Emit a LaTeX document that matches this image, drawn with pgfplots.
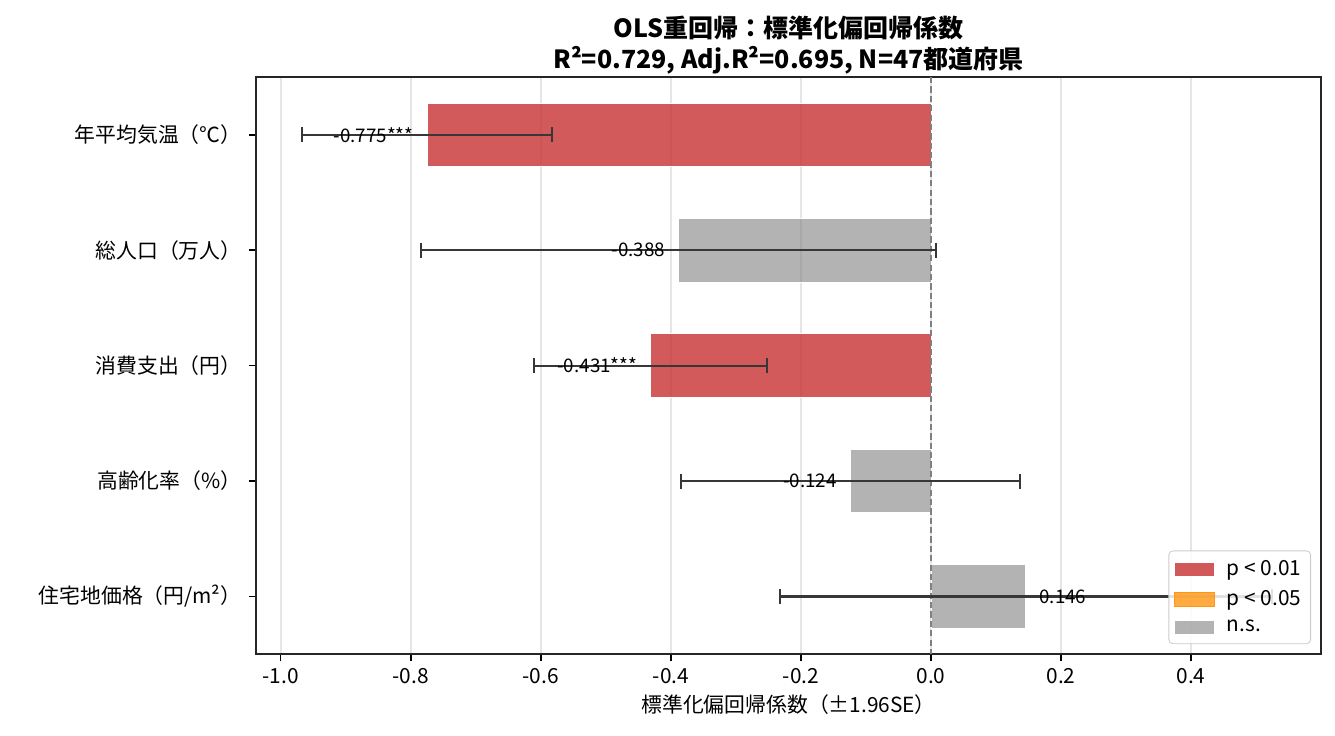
\documentclass[border=0pt]{standalone}
\usepackage{pgfplots}
\pgfplotsset{compat=1.18}
\usepackage{fontspec}
\setmainfont{Noto Sans CJK JP}

\definecolor{sigred}{RGB}{199,49,49}
\definecolor{sigorange}{RGB}{255,150,20}
\definecolor{nsgray}{RGB}{128,128,128}
\definecolor{errcol}{RGB}{55,55,55}

% coefficient, position, 1.96*SE
\pgfplotstableread{
x y err
-0.775 0 0.192
-0.388 1 0.396
-0.431 2 0.179
-0.124 3 0.261
0.146 4 0.378
}\coefs

\begin{document}
\begin{tikzpicture}
\begin{axis}[
    name=ax,
    width=511.2pt, height=277pt,
    scale only axis,
    xmin=-1.038, xmax=0.6,
    ymin=-0.5, ymax=4.5,
    y dir=reverse,
    xtick={-1.0,-0.8,-0.6,-0.4,-0.2,0.0,0.2,0.4},
    ytick={0,1,2,3,4},
    yticklabels={年平均気温（℃）, 総人口（万人）, 消費支出（円）, 高齢化率（\%）, 住宅地価格（円/m²）},
    xticklabel style={/pgf/number format/.cd, fixed, fixed zerofill, precision=1, assume math mode=true},
    tick label style={font=\fontsize{10}{12}\selectfont},
    tick align=outside,
    xtick pos=bottom, ytick pos=left,
    major tick length=3.5pt,
    every tick/.style={black, line width=0.7pt},
    axis line style={line width=0.8pt, black!85},
    xmajorgrids,
    major grid style={draw=black!10, line width=0.8pt},
    xlabel={標準化偏回帰係数（±1.96SE）},
    xlabel style={font=\fontsize{10}{12}\selectfont, yshift=2pt},
    title={OLS重回帰：標準化偏回帰係数\\R²=0.729, Adj.R²=0.695, N=47都道府県},
    title style={at={(0.5,1)}, anchor=south, yshift=-8pt, align=center,
        font=\bfseries\fontsize{12}{14.9}\selectfont},
    legend style={at={(1,0)}, anchor=south east, xshift=-4.8pt, yshift=4.8pt,
        draw=black!20, rounded corners=2pt, fill=white, fill opacity=0.85, text opacity=1,
        font=\fontsize{10}{13}\selectfont, row sep=1.5pt, inner sep=2.5pt,
        /tikz/every odd column/.append style={column sep=4pt}},
    legend cell align=left,
    legend image code/.code={\draw[sharp corners, #1] (0pt,-3.4pt) rectangle (19pt,3.4pt);},
    clip=false,
]
% significant at p < 0.01
\addplot[xbar, bar width=0.55, bar shift=0pt, fill=sigred, fill opacity=0.8, draw=white, line width=0.4pt]
    coordinates {(-0.775,0) (-0.431,2)};
\addlegendentry{p < 0.01}
\addlegendimage{fill=sigorange, fill opacity=0.8, draw=sigorange}
\addlegendentry{p < 0.05}
% not significant
\addplot[xbar, bar width=0.55, bar shift=0pt, fill=nsgray, fill opacity=0.6, draw=white, line width=0.4pt]
    coordinates {(-0.388,1) (-0.124,3) (0.146,4)};
\addlegendentry{n.s.}

% zero line
\addplot[forget plot, dashed, dash pattern=on 3pt off 1.5pt, draw=nsgray, line width=0.8pt]
    coordinates {(0,-0.5) (0,4.5)};

% 95% intervals
\addplot[forget plot, draw=none, mark=none,
    error bars/.cd, x dir=both, x explicit,
    error bar style={draw=errcol, line width=1.05pt},
    error mark options={draw=errcol, line width=1.05pt, mark size=3.6pt, rotate=90}]
    table[x=x, y=y, x error=err] {\coefs};

% value labels
\addplot[forget plot, draw=none, mark=none,
    nodes near coords, point meta=explicit symbolic,
    nodes near coords style={anchor=east, xshift=-3pt, font=\fontsize{9}{10}\selectfont, text=black}]
    table[x=x, y=y, meta=lab] {
x y lab
-0.775 0 {-0.775***}
-0.388 1 {-0.388}
-0.431 2 {-0.431***}
-0.124 3 {-0.124}
};
\addplot[forget plot, draw=none, mark=none,
    nodes near coords, point meta=explicit symbolic,
    nodes near coords style={anchor=west, xshift=3pt, font=\fontsize{9}{10}\selectfont, text=black}]
    table[x=x, y=y, meta=lab] {
x y lab
0.146 4 {0.146}
};
\end{axis}
\pgfresetboundingbox
\path[use as bounding box] ([xshift=-122.9pt, yshift=-38.9pt]ax.south west) rectangle ([xshift=6.7pt, yshift=37pt]ax.north east);
\end{tikzpicture}
\end{document}
